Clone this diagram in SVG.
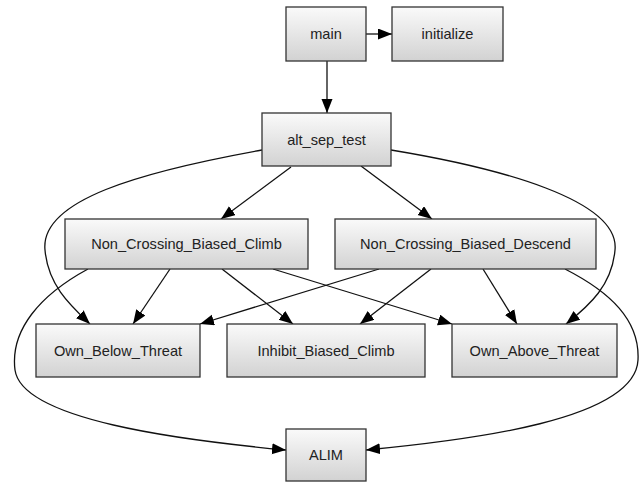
<svg xmlns="http://www.w3.org/2000/svg" width="643" height="482" viewBox="0 0 643 482">
<style>
.node rect{fill:url(#g);stroke:#333;stroke-width:1.3}
.node text{font-family:"Liberation Sans",Arial,sans-serif;font-size:14.6px;fill:#222;text-anchor:middle;dominant-baseline:central}
#edges path{fill:none;stroke:#111;stroke-width:1.3;marker-end:url(#ah)}
</style>
<defs>
<linearGradient id="g" x1="0" y1="0" x2="0" y2="1">
<stop offset="0" stop-color="#fafafa"/>
<stop offset="1" stop-color="#d2d2d2"/>
</linearGradient>
<marker id="ah" markerUnits="userSpaceOnUse" markerWidth="15" markerHeight="12" refX="14" refY="5.5" orient="auto">
<path d="M0,0 L14,5.5 L0,11 z" fill="#000"/>
</marker>
</defs>
<rect width="643" height="482" fill="#fff"/>
<g id="edges">
<path d="M366,34 L392,34"/>
<path d="M327,61 L327,113"/>
<path d="M291,167 L221,219"/>
<path d="M361,166 L432,219"/>
<path d="M262,150 C140,172 40,200 45,250 C48,285 70,305 90,324"/>
<path d="M391,150 C500,168 620,200 615,250 C612,285 590,305 566,324"/>
<path d="M170,269 L133,324"/>
<path d="M222,269 L293,324"/>
<path d="M273,269 L452,324"/>
<path d="M88,269 C40,295 10,330 15,370 C22,420 180,440 286,450"/>
<path d="M379,269 L200,324"/>
<path d="M431,269 L360,324"/>
<path d="M483,269 L517,324"/>
<path d="M565,269 C610,292 640,320 638,360 C635,420 470,440 366,450"/>
</g>
<g id="main" class="node"><rect x="286" y="7" width="80" height="54"/><text x="326" y="34">main</text></g>
<g id="initialize" class="node"><rect x="392" y="7" width="111" height="54"/><text x="447.5" y="34">initialize</text></g>
<g id="alt_sep_test" class="node"><rect x="262" y="113" width="129" height="53"/><text x="326.5" y="139.5">alt_sep_test</text></g>
<g id="Non_Crossing_Biased_Climb" class="node"><rect x="65" y="219" width="243" height="50"/><text x="186.5" y="244">Non_Crossing_Biased_Climb</text></g>
<g id="Non_Crossing_Biased_Descend" class="node"><rect x="335" y="219" width="261" height="50"/><text x="465.5" y="244">Non_Crossing_Biased_Descend</text></g>
<g id="Own_Below_Threat" class="node"><rect x="36" y="324" width="164" height="53"/><text x="118" y="350.5">Own_Below_Threat</text></g>
<g id="Inhibit_Biased_Climb" class="node"><rect x="227" y="324" width="198" height="53"/><text x="326" y="350.5">Inhibit_Biased_Climb</text></g>
<g id="Own_Above_Threat" class="node"><rect x="452" y="324" width="165" height="53"/><text x="534.5" y="350.5">Own_Above_Threat</text></g>
<g id="ALIM" class="node"><rect x="286" y="429" width="80" height="52"/><text x="326" y="455">ALIM</text></g>
</svg>
